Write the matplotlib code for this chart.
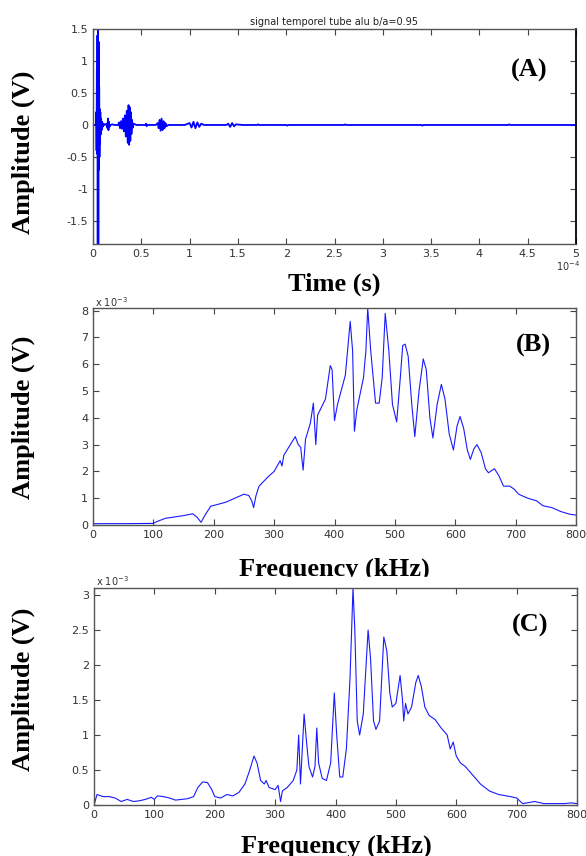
import numpy as np
import matplotlib.pyplot as plt
from matplotlib.patches import Rectangle

# (A) time signal, time in 1e-4 s, amplitude in V (peaks)
time_a = [0.000, 0.030, 0.034, 0.037, 0.040, 0.043, 0.046, 0.049, 0.052, 0.055,
          0.058, 0.061, 0.064, 0.067, 0.070, 0.073, 0.076, 0.079, 0.084, 0.089,
          0.094, 0.100, 0.110, 0.120, 0.140, 0.150, 0.155, 0.160, 0.165, 0.170,
          0.180, 0.200, 0.220, 0.260, 0.270, 0.280, 0.290, 0.300, 0.310, 0.320,
          0.330, 0.340, 0.350, 0.360, 0.368, 0.374, 0.380, 0.386, 0.392, 0.398,
          0.404, 0.412, 0.420, 0.450, 0.500, 0.540, 0.550, 0.555, 0.560, 0.600,
          0.650, 0.670, 0.680, 0.690, 0.700, 0.710, 0.720, 0.730, 0.740, 0.750,
          0.760, 0.780, 0.850, 0.950, 1.000, 1.020, 1.040, 1.060, 1.080, 1.100,
          1.120, 1.150, 1.250, 1.380, 1.400, 1.420, 1.440, 1.460, 1.480, 1.550,
          1.700, 1.710, 1.720, 2.000, 2.010, 2.020, 2.600, 2.610, 2.620, 3.400,
          3.410, 3.420, 4.300, 4.310, 4.320, 5.000]
volt_a = [0.00, 0.00, 0.20, -0.40, 0.85, -0.45, 1.40, -2.00, 1.60, -2.00,
          1.30, -0.70, 0.60, -0.50, 0.25, -0.30, 0.20, -0.15, 0.10, -0.08,
          0.05, -0.03, 0.02, 0.00, 0.02, -0.05, 0.10, -0.08, 0.05, -0.03,
          0.00, 0.01, 0.00, 0.00, 0.04, -0.05, 0.06, -0.06, 0.10, -0.10,
          0.15, -0.18, 0.22, -0.28, 0.31, -0.31, 0.28, -0.25, 0.20, -0.14,
          0.08, -0.04, 0.02, 0.00, 0.00, 0.00, 0.02, -0.02, 0.00, 0.00,
          0.00, 0.03, -0.05, 0.08, -0.09, 0.10, -0.08, 0.06, -0.05, 0.03,
          -0.02, 0.00, 0.00, 0.00, 0.03, -0.04, 0.05, -0.05, 0.04, -0.03,
          0.02, 0.00, 0.00, 0.00, 0.02, -0.03, 0.03, -0.02, 0.01, 0.00,
          0.00, 0.01, 0.00, 0.00, -0.01, 0.00, 0.00, 0.01, 0.00, 0.00,
          -0.01, 0.00, 0.00, 0.01, 0.00, 0.00]

# (B) spectrum, frequency in kHz, amplitude in 1e-3 V
freq_b = [0, 50, 100, 105, 120, 150, 165, 172, 179, 185, 195, 220, 250, 258, 263, 266,
          270, 275, 290, 300, 310, 313, 316, 335, 340, 344, 348, 352, 360, 365, 369,
          372, 385, 393, 396, 400, 405, 418, 426, 430, 433, 437, 448, 452, 455, 460,
          468, 474, 479, 484, 490, 496, 503, 509, 513, 517, 522, 528, 533, 540, 547,
          552, 558, 563, 570, 577, 583, 590, 597, 603, 608, 614, 620, 625, 631, 636,
          643, 650, 655, 665, 672, 680, 690, 697, 705, 720, 735, 745, 760, 775, 790, 800]
amp_b = [0.05, 0.05, 0.06, 0.12, 0.25, 0.35, 0.42, 0.30, 0.10, 0.35, 0.70, 0.85, 1.15,
         1.10, 0.90, 0.65, 1.10, 1.45, 1.80, 2.00, 2.40, 2.20, 2.60, 3.30, 3.00, 2.90,
         2.05, 3.20, 3.80, 4.55, 3.00, 4.10, 4.70, 5.95, 5.80, 3.90, 4.50, 5.60, 7.60,
         6.50, 3.50, 4.30, 5.50, 6.50, 8.10, 6.50, 4.55, 4.55, 5.50, 7.90, 6.50, 4.50,
         3.85, 5.50, 6.70, 6.75, 6.30, 4.50, 3.30, 5.00, 6.20, 5.80, 4.00, 3.25, 4.50,
         5.25, 4.70, 3.40, 2.80, 3.70, 4.05, 3.60, 2.80, 2.45, 2.85, 3.00, 2.70, 2.10,
         1.95, 2.10, 1.85, 1.45, 1.45, 1.35, 1.15, 1.00, 0.90, 0.72, 0.65, 0.50, 0.40, 0.37]

# (C) spectrum, frequency in kHz, amplitude in 1e-3 V
freq_c = [0, 5, 15, 25, 35, 45, 55, 65, 75, 85, 95, 100, 105, 115, 125, 135, 145, 155,
          165, 172, 180, 188, 195, 200, 210, 220, 230, 240, 250, 258, 265, 270, 276, 282,
          285, 290, 300, 305, 309, 312, 320, 330, 336, 339, 342, 345, 348, 352, 356, 362,
          366, 369, 372, 378, 385, 392, 398, 402, 407, 412, 418, 424, 429, 432, 436, 440,
          446, 454, 458, 463, 467, 473, 480, 485, 490, 494, 500, 507, 511, 513, 516, 520,
          526, 533, 537, 542, 548, 555, 565, 575, 585, 590, 595, 600, 607, 615, 625, 640,
          655, 670, 690, 700, 710, 730, 745, 760, 780, 790, 800]
amp_c = [0.00, 0.15, 0.12, 0.12, 0.10, 0.05, 0.08, 0.05, 0.06, 0.08, 0.11, 0.08, 0.13,
         0.12, 0.10, 0.07, 0.08, 0.09, 0.12, 0.25, 0.33, 0.32, 0.22, 0.12, 0.10, 0.15,
         0.13, 0.18, 0.30, 0.50, 0.70, 0.60, 0.35, 0.30, 0.35, 0.25, 0.22, 0.28, 0.05,
         0.20, 0.25, 0.35, 0.50, 1.00, 0.30, 0.80, 1.30, 0.90, 0.55, 0.40, 0.55, 1.10,
         0.60, 0.38, 0.35, 0.60, 1.60, 1.00, 0.40, 0.40, 0.80, 1.80, 3.10, 2.50, 1.20,
         1.00, 1.30, 2.50, 2.10, 1.20, 1.08, 1.20, 2.40, 2.20, 1.60, 1.40, 1.45, 1.85,
         1.50, 1.20, 1.45, 1.30, 1.40, 1.75, 1.85, 1.70, 1.40, 1.28, 1.22, 1.10, 1.00,
         0.80, 0.90, 0.70, 0.60, 0.55, 0.45, 0.30, 0.20, 0.15, 0.12, 0.10, 0.02, 0.05,
         0.02, 0.02, 0.02, 0.03, 0.02]

ticks_a_x = [0, 0.5, 1, 1.5, 2, 2.5, 3, 3.5, 4, 4.5, 5]
ticks_a_y = [-1.5, -1, -0.5, 0, 0.5, 1, 1.5]
ticks_f = [0, 100, 200, 300, 400, 500, 600, 700, 800]
ticks_b_y = [0, 1, 2, 3, 4, 5, 6, 7, 8]
ticks_c_y = [0, 0.5, 1, 1.5, 2, 2.5, 3]

W, H = 586, 856
fig = plt.figure(figsize=(W / 100, H / 100), dpi=100)

def box(l, t, r, b):
    return [l / W, 1 - b / H, (r - l) / W, (b - t) / H]

def lab(v):
    return ('%g' % v)

axA = fig.add_axes(box(93, 29, 576, 244))
axB = fig.add_axes(box(93, 308, 576, 525))
axC = fig.add_axes(box(94, 588, 577, 805), zorder=5)

axA.plot(time_a, volt_a, color='#0000ff', lw=1.3)
axB.plot(freq_b, amp_b, color='#1a1aff', lw=0.8)
axC.plot(freq_c, amp_c, color='#1a1aff', lw=0.8)

axA.set_xlim(0, 5)
axA.set_ylim(-1.86, 1.5)
axA.set_xticks(ticks_a_x, [lab(v) for v in ticks_a_x])
axA.set_yticks(ticks_a_y, [lab(v) for v in ticks_a_y])
axA.set_title('signal temporel tube alu b/a=0.95', fontsize=7, pad=3, color='#222222')

axB.set_xlim(0, 800)
axB.set_ylim(0, 8.1)
axB.set_xticks(ticks_f, [lab(v) for v in ticks_f])
axB.set_yticks(ticks_b_y, [lab(v) for v in ticks_b_y])

axC.set_xlim(0, 800)
axC.set_ylim(0, 3.1)
axC.set_xticks(ticks_f, [lab(v) for v in ticks_f])
axC.set_yticks(ticks_c_y, [lab(v) for v in ticks_c_y])

for ax in (axA, axB, axC):
    ax.tick_params(direction='in', top=True, right=True, length=4, width=0.8,
                   labelsize=8, labelcolor='#333333', color='#444444')
    for s in ax.spines.values():
        s.set_color('#555555')
        s.set_linewidth(1.0)
axA.spines['right'].set_color('black')
axA.spines['right'].set_linewidth(1.3)

# exponent labels, MATLAB style
small = dict(fontsize=7, color='#333333')
fig.text(568 / W, 1 - 266 / H, r'10$^{-4}$', ha='center', va='center', **small)
fig.text(95 / W, 1 - 302 / H, r'x 10$^{-3}$', ha='left', va='center', **small)
fig.text(96 / W, 1 - 581 / H, r'x 10$^{-3}$', ha='left', va='center', **small)

serif = dict(family='Liberation Serif', weight='bold', fontsize=19)
fig.text(529 / W, 1 - 70 / H, '(A)', ha='center', va='center', **serif)
fig.text(533 / W, 1 - 345 / H, '(B)', ha='center', va='center', **serif)
fig.text(530 / W, 1 - 625 / H, '(C)', ha='center', va='center', zorder=6, **serif)

for yc in (152, 417, 689):
    fig.text(23 / W, 1 - yc / H, 'Amplitude (V)', rotation=90, ha='center', va='center', **serif)
fig.text(334 / W, 1 - 284 / H, 'Time (s)', ha='center', va='center', **serif)
fig.text(334 / W, 1 - 569 / H, 'Frequency (kHz)', ha='center', va='center', zorder=3, **serif)
fig.text(336 / W, 1 - 846 / H, 'Frequency (kHz)', ha='center', va='center', **serif)
# the lower panel hides the bottom of the middle axis title
fig.patches.append(Rectangle((200 / W, 1 - 588 / H), 300 / W, 11 / H,
                             transform=fig.transFigure, color='white', zorder=4))

fig.savefig('out.png', dpi=100, facecolor='white')
